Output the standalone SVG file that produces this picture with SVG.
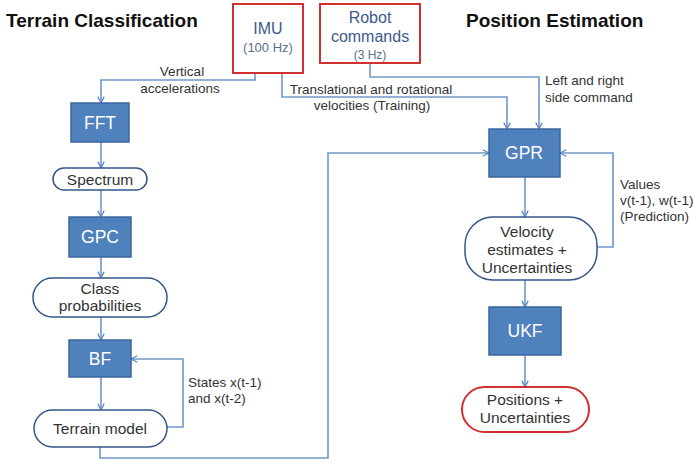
<svg xmlns="http://www.w3.org/2000/svg" width="693" height="464" viewBox="0 0 693 464">
  <style>
    text { font-family: "Liberation Sans", Arial, sans-serif; }
    .title { font-size: 19px; font-weight: bold; fill: #111; }
    .src { fill: #fff; stroke: #d03030; stroke-width: 2; }
    .srcmain { font-size: 16px; fill: #3d5a8a; text-anchor: middle; }
    .srcsub { font-size: 13px; fill: #5a6f90; text-anchor: middle; }
    .proc { fill: #4f81bd; stroke: #3a65a0; stroke-width: 1.5; }
    .proctext { font-size: 17.5px; fill: #fff; text-anchor: middle; }
    .data { fill: #fff; stroke: #35558a; stroke-width: 1.5; }
    .dataout { fill: #fff; stroke: #d03030; stroke-width: 2; }
    .datatext { font-size: 15.5px; fill: #333; text-anchor: middle; }
    .lbl { font-size: 13.5px; fill: #333; }
    .conn { fill: none; stroke: #7096c8; stroke-width: 1.6; }
  </style>
  <defs>
    <marker id="arrow" viewBox="0 0 10 10" refX="9" refY="5" markerWidth="8" markerHeight="8" markerUnits="userSpaceOnUse" orient="auto">
      <path d="M1,1 L9,5 L1,9" fill="none" stroke="#5f88c0" stroke-width="1.6"/>
    </marker>
  </defs>

  <rect width="693" height="464" fill="#fff"/>

  <text class="title" x="6" y="27">Terrain Classification</text>
  <text class="title" x="466" y="27">Position Estimation</text>

  <!-- connectors -->
  <g id="connectors">
    <path class="conn" d="M255,73 V80 H101 V103" marker-end="url(#arrow)"/>
    <path class="conn" d="M282,73 V97 H507 V129" marker-end="url(#arrow)"/>
    <path class="conn" d="M370,63 V77 H539 V129" marker-end="url(#arrow)"/>
    <path class="conn" d="M101,142 V168" marker-end="url(#arrow)"/>
    <path class="conn" d="M101,190 V217" marker-end="url(#arrow)"/>
    <path class="conn" d="M101,257 V278" marker-end="url(#arrow)"/>
    <path class="conn" d="M101,317 V340" marker-end="url(#arrow)"/>
    <path class="conn" d="M101,377 V410" marker-end="url(#arrow)"/>
    <path class="conn" d="M167,427 H183 V359 H131" marker-end="url(#arrow)"/>
    <path class="conn" d="M100,447 V458 H328 V153 H489" marker-end="url(#arrow)"/>
    <path class="conn" d="M525,177 V217" marker-end="url(#arrow)"/>
    <path class="conn" d="M597,247 H613 V153 H560" marker-end="url(#arrow)"/>
    <path class="conn" d="M525,280 V307" marker-end="url(#arrow)"/>
    <path class="conn" d="M525,355 V387" marker-end="url(#arrow)"/>

    <text class="lbl" x="182" y="76" text-anchor="middle">Vertical</text>
    <text class="lbl" x="180" y="93" text-anchor="middle">accelerations</text>
    <text class="lbl" x="371" y="94" text-anchor="middle">Translational and rotational</text>
    <text class="lbl" x="372" y="110" text-anchor="middle">velocities (Training)</text>
    <text class="lbl" x="545" y="85">Left and right</text>
    <text class="lbl" x="545" y="102">side command</text>
    <text class="lbl" x="620" y="189">Values</text>
    <text class="lbl" x="620" y="205">v(t-1), w(t-1)</text>
    <text class="lbl" x="620" y="221">(Prediction)</text>
    <text class="lbl" x="188" y="387">States x(t-1)</text>
    <text class="lbl" x="188" y="403">and x(t-2)</text>
  </g>

  <g id="imu">
    <rect class="src" x="233" y="4" width="70" height="69"/>
    <text class="srcmain" x="268" y="34">IMU</text>
    <text class="srcsub" x="268" y="52">(100 Hz)</text>
  </g>
  <g id="robot-commands">
    <rect class="src" x="320" y="4" width="100" height="59"/>
    <text class="srcmain" x="370" y="23">Robot</text>
    <text class="srcmain" x="370" y="42">commands</text>
    <text class="srcsub" x="370" y="59" style="font-size:12px">(3 Hz)</text>
  </g>

  <g id="fft">
    <rect class="proc" x="71" y="103" width="58" height="39"/>
    <text class="proctext" x="100" y="129">FFT</text>
  </g>
  <g id="spectrum">
    <rect class="data" x="53" y="168" width="94" height="22" rx="11"/>
    <text class="datatext" x="100" y="185">Spectrum</text>
  </g>
  <g id="gpc">
    <rect class="proc" x="69" y="217" width="62" height="40"/>
    <text class="proctext" x="100" y="243">GPC</text>
  </g>
  <g id="class-probabilities">
    <rect class="data" x="33" y="278" width="134" height="39" rx="19.5"/>
    <text class="datatext" x="100" y="294">Class</text>
    <text class="datatext" x="100" y="311">probabilities</text>
  </g>
  <g id="bf">
    <rect class="proc" x="69" y="340" width="62" height="37"/>
    <text class="proctext" x="100" y="365">BF</text>
  </g>
  <g id="terrain-model">
    <rect class="data" x="34" y="410" width="133" height="37" rx="18.5"/>
    <text class="datatext" x="100" y="434">Terrain model</text>
  </g>

  <g id="gpr">
    <rect class="proc" x="489" y="129" width="71" height="48"/>
    <text class="proctext" x="524" y="159">GPR</text>
  </g>
  <g id="velocity-estimates">
    <rect class="data" x="465" y="217" width="132" height="63" rx="28"/>
    <text class="datatext" x="527" y="237">Velocity</text>
    <text class="datatext" x="527" y="255">estimates +</text>
    <text class="datatext" x="527" y="273">Uncertainties</text>
  </g>
  <g id="ukf">
    <rect class="proc" x="489" y="307" width="72" height="48"/>
    <text class="proctext" x="525" y="337">UKF</text>
  </g>
  <g id="positions">
    <rect class="dataout" x="462" y="387" width="127" height="45" rx="22.5"/>
    <text class="datatext" x="525" y="405">Positions +</text>
    <text class="datatext" x="525" y="423">Uncertainties</text>
  </g>
</svg>
